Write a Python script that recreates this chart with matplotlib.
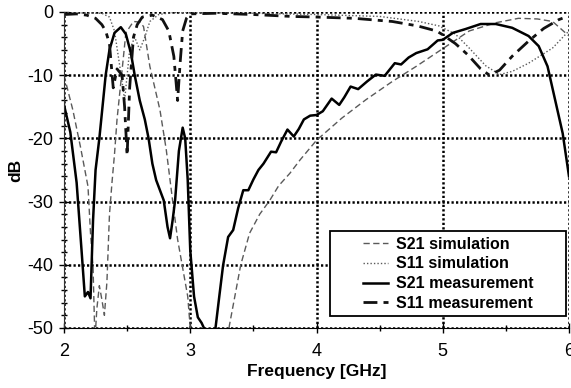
import matplotlib
matplotlib.use("Agg")

import numpy as np
import matplotlib.pyplot as plt
from matplotlib.patches import Rectangle

plt.rcParams['font.family'] = ['Liberation Sans', 'DejaVu Sans']
plt.rcParams['axes.unicode_minus'] = False

# S21 simulatie (stiplet, grå)
s21_sim_f = [2.00, 2.07, 2.13, 2.19, 2.21, 2.23, 2.245, 2.26, 2.28, 2.30, 2.32, 2.34, 2.36,
             2.38, 2.40, 2.42, 2.455, 2.49, 2.55, 2.60, 2.63, 2.68, 2.76, 2.81, 2.86, 2.90,
             2.98, 3.00, 3.10, 3.28, 3.31, 3.40, 3.47, 3.55, 3.63, 3.70, 3.79, 3.87, 4.00,
             4.20, 4.39, 4.60, 4.79, 5.00, 5.21, 5.42, 5.60, 5.75, 5.87, 6.00]
s21_sim_db = [-10, -15.5, -21.3, -27.6, -35, -40.3, -52, -47, -43.3, -45.5, -48, -42.7, -32.1,
              -27, -22.5, -17, -10.2, -3.3, -1.5, -1.6, -2.3, -8.6, -15.5, -21.8, -29.8, -36,
              -45, -50, -60, -55, -49.6, -40, -35, -32, -29.8, -27.5, -25.5, -23.4, -20.3,
              -16.8, -13.9, -11, -8.6, -5.8, -3.0, -1.7, -1.0, -1.1, -1.5, -3.8]

# S11 simulatie (prikket, grå)
s11_sim_f = [2.00, 2.30, 2.36, 2.40, 2.43, 2.46, 2.48, 2.52, 2.56, 2.60, 2.64, 2.68, 2.75,
             2.85, 3.00, 3.50, 4.00, 4.50, 4.81, 4.97, 5.10, 5.20, 5.34, 5.45, 5.55, 5.68,
             5.87, 5.97, 6.00]
s11_sim_db = [-0.1, -0.2, -0.8, -3, -7, -11, -14, -6, -4, -6, -4, -1.5, -0.4,
              -0.1, -0.05, -0.2, -0.4, -0.7, -1.5, -2.2, -3.5, -5.5, -8.5, -9.9, -9.4, -8.1,
              -5.7, -3.6, -3.0]

# S21 maling (heltrukken, svart)
s21_meas_f = [2.00, 2.05, 2.10, 2.14, 2.165, 2.19, 2.21, 2.23, 2.25, 2.28, 2.31, 2.33, 2.36,
              2.40, 2.45, 2.49, 2.53, 2.56, 2.60, 2.64, 2.67, 2.70, 2.73, 2.76, 2.79, 2.82,
              2.84, 2.86, 2.88, 2.91, 2.94, 2.96, 2.98, 3.00, 3.03, 3.06, 3.09, 3.12, 3.15,
              3.19, 3.20, 3.23, 3.26, 3.30, 3.34, 3.38, 3.42, 3.46, 3.50, 3.54, 3.58, 3.64,
              3.68, 3.72, 3.77, 3.82, 3.86, 3.90, 3.95, 4.00, 4.05, 4.12, 4.18, 4.22, 4.27,
              4.33, 4.40, 4.47, 4.54, 4.62, 4.67, 4.73, 4.79, 4.88, 4.96, 5.00, 5.08, 5.18,
              5.30, 5.42, 5.55, 5.68, 5.76, 5.83, 5.89, 5.95, 6.00]
s21_meas_db = [-14.7, -19, -27, -38, -45, -44.3, -45.3, -33, -25, -20, -14, -10, -6,
               -3.3, -2.4, -3.5, -6.5, -10, -14, -17, -20, -24, -26.6, -28.2, -29.8, -34,
               -35.8, -33, -29.8, -22, -18.3, -20, -26.6, -37.7, -45, -48.3, -49.2, -50.5, -53,
               -51, -50, -45, -40.1, -35.6, -34.5, -31, -28.2, -28.2, -26.5, -25, -24, -22.1,
               -22.2, -20.5, -18.6, -19.7, -18.5, -17, -16.4, -16.3, -15.7, -13.7, -14.7, -13.5, -11.8,
               -12.2, -11, -9.9, -10.1, -8.1, -8.3, -7.2, -6.5, -5.9, -4.5, -4.4, -3.3, -2.7,
               -1.9, -1.9, -2.5, -3.8, -5.4, -8.6, -13.9, -19.2, -26]

# S11 maling (strek-punkt, svart)
s11_meas_f = [2.00, 2.10, 2.18, 2.25, 2.30, 2.33, 2.36, 2.39, 2.42, 2.46, 2.48, 2.50, 2.52,
              2.55, 2.58, 2.62, 2.70, 2.78, 2.83, 2.87, 2.90, 2.92, 2.94, 2.97, 3.00, 3.20,
              3.50, 3.80, 4.00, 4.30, 4.60, 4.80, 4.95, 5.00, 5.10, 5.20, 5.30, 5.37, 5.45,
              5.55, 5.68, 5.80, 5.92, 5.96]
s11_meas_db = [-0.4, -0.3, -0.5, -1.0, -2, -3, -5, -12, -9, -10, -15, -22.7, -12,
               -4, -2, -0.8, -0.5, -1.2, -3, -7, -14, -8, -3, -1, -0.3, -0.2,
               -0.4, -0.7, -0.8, -1.0, -1.5, -2.2, -3.0, -3.6, -5.0, -6.8, -9.0, -10, -9.2,
               -7, -4.6, -2.6, -1.2, -0.9]

fig = plt.figure(figsize=(5.71, 3.88), dpi=100)
ax = fig.add_axes([64 / 571, 60 / 388, 505 / 571, 316 / 388])

ax.plot(s21_sim_f, s21_sim_db, color='#5a5a5a', lw=1.0, ls=(0, (4.5, 2.5)), label='S21 simulation')
ax.plot(s11_sim_f, s11_sim_db, color='#5a5a5a', lw=1.0, ls=(0, (1, 1.5)), label='S11 simulation')
ax.plot(s21_meas_f, s21_meas_db, color='black', lw=1.8, label='S21 measurement')
ax.plot(s11_meas_f, s11_meas_db, color='#111111', lw=2.0, ls=(0, (5, 2.2, 1.8, 2.2)), label='S11 measurement')

ax.set_xlim(2, 6)
ax.set_ylim(-50, 0)
ax.set_xticks([2, 3, 4, 5, 6])
ax.set_xticks(np.arange(2, 6.01, 0.5), minor=True)
ax.set_yticks([0, -10, -20, -30, -40, -50])
ax.set_yticks(np.arange(-50, 0.1, 2), minor=True)
ax.tick_params(which='major', direction='inout', length=7, width=1, labelsize=13)
ax.tick_params(which='minor', direction='inout', length=5, width=1)
ax.tick_params(axis='x', pad=7)
ax.tick_params(axis='y', pad=4)

ax.grid(True, which='major', color='black', lw=1.8, ls=(0, (0.9, 0.9)))
ax.spines['top'].set_visible(False)
ax.spines['right'].set_visible(False)
ax.spines['left'].set_color('#333333')

ax.set_xlabel('Frequency [GHz]', fontsize=12.5, fontweight='bold', labelpad=3)
ax.set_ylabel('dB', fontsize=12.5, fontweight='bold', labelpad=3)

# Legendeboks
ax.add_patch(Rectangle((0.527, 0.038), 0.467, 0.269, transform=ax.transAxes,
                       facecolor='white', edgecolor='black', lw=1.3, zorder=5))
leg = ax.legend(loc='upper left', bbox_to_anchor=(0.592, 0.289), frameon=False,
                borderpad=0, borderaxespad=0, handlelength=1.57, handletextpad=0.5,
                labelspacing=0.3, prop={'weight': 'bold', 'size': 11.5})
leg.set_zorder(6)

fig.savefig('out.png', dpi=100)
